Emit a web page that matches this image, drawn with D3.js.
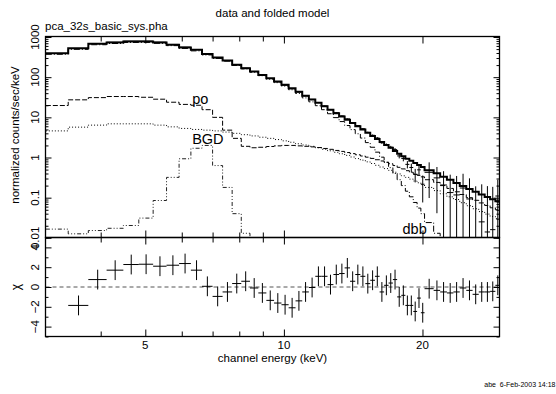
<!DOCTYPE html>
<html><head><meta charset="utf-8">
<script src="https://cdn.jsdelivr.net/npm/d3@7"></script>
<style>
body{margin:0;background:#fff}
svg{display:block}
text{font-family:"Liberation Sans",Arial,Helvetica,sans-serif;fill:#000}
</style>
</head><body>
<svg id="c" width="556" height="394"></svg>
<script>
// ---------- data ----------
const chanEdges = [3.04,3.40,3.76,4.12,4.48,4.84,5.20,5.56,5.92,6.28,6.64,7.00,7.36,7.72,8.08,8.44,8.80,9.16,9.52,9.88,10.24,10.60,10.96,11.33,11.70,12.07,12.44,12.81,13.18,13.55,13.92,14.29,14.66,15.03,15.40,15.77,16.14,16.51,16.88,17.25,17.62,17.99,18.36,18.73,19.10,19.47,19.84,20.21,21.15,21.85,22.60,23.35,24.10,24.90,25.70,26.50,27.30,28.05,28.80,29.50];
const modelTotal = [395,526,680,730,772,772,730,640,547,479,380,308,260,203,167,138,114,94,78,64.5,53,43.5,34.5,28,23,18.8,15.4,12.7,10.5,8.7,7.2,6.0,5.0,4.15,3.45,2.88,2.42,2.05,1.74,1.46,1.24,1.07,0.935,0.825,0.726,0.65,0.58,0.484,0.403,0.332,0.278,0.232,0.196,0.164,0.14,0.12,0.104,0.091,0.081];
const compDbb = [371,493,643,690,732,734,695,610,520,452,358,293,251,196,161,133,109,89,73,60,48.6,39.35,30.5,24.3,19.5,15.5,12.3,9.85,7.85,6.25,4.95,3.9,3.05,2.35,1.8,1.36,1.02,0.76,0.56,0.4,0.28,0.2,0.145,0.105,0.076,0.055,0.04,0.024,0.013,0.007,0.003,0.001,0.0005,0.0002,0.0001,0.0001,0.0001,0.0001,0.0001];
const compPo = [19.7,27.3,31,33,33,31.6,28.3,23.8,21,20,15.5,10,4.8,3.0,1.9,1.75,1.8,1.88,1.95,2.0,2.0,1.95,1.9,1.84,1.77,1.68,1.6,1.5,1.42,1.33,1.25,1.17,1.09,1.02,0.95,0.88,0.82,0.76,0.7,0.63,0.57,0.52,0.47,0.43,0.39,0.36,0.33,0.28,0.24,0.2,0.17,0.14,0.12,0.1,0.086,0.074,0.064,0.056,0.05];
const compBgd = [4.6,5.7,6.4,6.9,6.9,6.9,6.4,5.8,5.3,5.0,4.8,4.6,4.3,4.0,3.7,3.45,3.2,3.0,2.8,2.6,2.4,2.2,2.05,1.9,1.75,1.6,1.47,1.35,1.24,1.13,1.03,0.94,0.86,0.78,0.71,0.64,0.58,0.53,0.48,0.43,0.39,0.35,0.32,0.29,0.26,0.235,0.21,0.18,0.15,0.125,0.105,0.09,0.075,0.063,0.053,0.045,0.039,0.034,0.03];
const compGauss = [0.0165,0.0126,0.0152,0.0173,0.0203,0.031,0.085,0.32,0.93,1.7,2.0,0.63,0.18,0.04,0.013,0.005,0.001,0.0005,0.0002,0.0001,0.0001,0.0001,0.0001,0.0001,0.0001,0.0001,0.0001,0.0001,0.0001,0.0001,0.0001,0.0001,0.0001,0.0001,0.0001,0.0001,0.0001,0.0001,0.0001,0.0001,0.0001,0.0001,0.0001,0.0001,0.0001,0.0001,0.0001,0.0001,0.0001,0.0001,0.0001,0.0001,0.0001,0.0001,0.0001,0.0001,0.0001,0.0001,0.0001];
const dataVal = [null,516.7,684.5,741,788,788,743.6,653,559,487,380.3,305,258.6,203.8,168.1,137.8,113.2,92.4,76.4,63,51.5,42.6,34.2,28,23.44,19.19,15.48,13.07,10.85,9.16,7.33,6.25,5.2,4.21,3.57,3.06,2.34,2.08,1.8,1.57,1.095,0.948,0.675,0.565,0.38,0.493,0.216,0.428,0.311,0.207,0.134,0.117,0.174,0.093,-0.008,0.025,0.014,0.016,0.11];
const dataErr = [null,5,6,6.5,7,7,6.5,6,5.2,4.7,3.9,3.2,2.8,2.2,1.9,1.6,1.35,1.15,1.0,0.85,0.73,0.63,0.54,0.47,0.41,0.36,0.32,0.29,0.26,0.24,0.22,0.2,0.19,0.18,0.17,0.165,0.16,0.155,0.15,0.15,0.145,0.145,0.14,0.14,0.14,0.14,0.14,0.33,0.27,0.25,0.24,0.23,0.22,0.21,0.2,0.19,0.18,0.17,0.17];
const chiVal = [null,-1.86,0.75,1.7,2.27,2.3,2.1,2.2,2.37,1.7,0.07,-0.95,-0.5,0.35,0.58,-0.1,-0.6,-1.35,-1.62,-1.79,-2.1,-1.4,-0.5,-0.05,1.08,1.08,0.24,1.26,1.36,1.93,0.58,1.26,1.08,0.34,0.68,1.08,-0.5,0.17,0.4,0.75,-1.0,-0.84,-1.86,-1.86,-2.47,-1.12,-2.6,-0.17,-0.34,-0.5,-0.6,-0.5,-0.1,-0.34,-0.74,-0.5,-0.5,-0.44,0.17];
const xTicksAll = [4,5,6,7,8,9,10,20];
const xTickLabels = [5,10,20];
const yDecades = [0.01,0.1,1,10,100,1000];
const yDecadeLabels = ["0.01","0.1","1","10","100","1000"];
const chiTicksMajor = [-4,-2,0,2,4];
const chiTicksMinor = [-5,-3,-1,1,3,5];
const chiLabels = ["\u22124","\u22122","0","2","4"];
const titleText = "data and folded model";
const fileText = "pca_32s_basic_sys.pha";
const xTitle = "channel energy (keV)";
const yTitle = "normalized counts/sec/keV";
const chiTitle = "\u03c7";
const stampText = "abe  6-Feb-2003 14:18";
const compLabels = [{t:"po",e:6.32,v:22},{t:"BGD",e:6.32,v:2.2},{t:"dbb",e:18.1,v:0.0126}];

// ---------- layout ----------
const L=45.5, R=499.5, T=36.5, M=237.5, B=336.5;
const svg = d3.select("#c");
const x = d3.scaleLog().domain([3.035,29.4]).range([L,R]);
const y = d3.scaleLog().domain([0.0102,1030]).range([M,T]);
const yc = d3.scaleLinear().domain([-5,5]).range([B,M]);
const ymin = y.domain()[0];

svg.append("defs").append("clipPath").attr("id","cp")
  .append("rect").attr("x",L).attr("y",T).attr("width",R-L).attr("height",M-T);
svg.append("defs").append("clipPath").attr("id","cp2")
  .append("rect").attr("x",L).attr("y",M).attr("width",R-L).attr("height",B-M);

const gTop = svg.append("g").attr("clip-path","url(#cp)");
const gBot = svg.append("g").attr("clip-path","url(#cp2)");

function stepPts(vals){
  const pts=[];
  vals.forEach((v,i)=>{
    const yy = y(Math.max(v, ymin*0.9));
    pts.push([x(chanEdges[i]),yy],[x(chanEdges[i+1]),yy]);
  });
  return d3.line()(pts);
}

// components
const comps = [
  {v:compGauss, dash:"4,2,1,2,1,2", w:1, c:"#222"},
  {v:compBgd, dash:"1,2", w:1, c:"#000"},
  {v:compPo, dash:"5,2", w:1, c:"#000"},
  {v:compDbb, dash:"6,2,1,2", w:1, c:"#000"}
];
comps.forEach(cp=>{
  gTop.append("path").attr("d",stepPts(cp.v)).attr("fill","none")
    .attr("stroke",cp.c).attr("stroke-width",cp.w).attr("stroke-dasharray",cp.dash);
});
// total model
gTop.append("path").attr("d",stepPts(modelTotal)).attr("fill","none")
  .attr("stroke","#000").attr("stroke-width",2);

// data crosses
dataVal.forEach((v,i)=>{
  if(v===null) return;
  const lo=chanEdges[i], hi=chanEdges[i+1], xc=x((lo+hi)/2);
  const e=dataErr[i];
  if(v>ymin){
    gTop.append("line").attr("x1",x(lo)).attr("x2",x(hi)).attr("y1",y(v)).attr("y2",y(v))
      .attr("stroke","#000").attr("stroke-width",1);
  }
  const top=v+e, bot=v-e;
  gTop.append("line").attr("x1",xc).attr("x2",xc)
    .attr("y1",y(Math.max(top,ymin*0.9))).attr("y2",y(Math.max(bot,ymin*0.9)))
    .attr("stroke","#000").attr("stroke-width",1);
});

// residuals
gBot.append("line").attr("x1",L).attr("x2",R).attr("y1",yc(0)).attr("y2",yc(0))
  .attr("stroke","#555").attr("stroke-width",1).attr("stroke-dasharray","4,3");
chiVal.forEach((v,i)=>{
  if(v===null) return;
  const lo=chanEdges[i], hi=chanEdges[i+1], xc=x((lo+hi)/2);
  gBot.append("line").attr("x1",x(lo)).attr("x2",x(hi)).attr("y1",yc(v)).attr("y2",yc(v))
    .attr("stroke","#000").attr("stroke-width",1);
  gBot.append("line").attr("x1",xc).attr("x2",xc).attr("y1",yc(v+1)).attr("y2",yc(v-1))
    .attr("stroke","#000").attr("stroke-width",1);
});

// ---------- axes ----------
function axisG(axis, tx, ty){
  const g = svg.append("g").attr("transform",`translate(${tx},${ty})`).call(axis);
  g.select(".domain").remove();
  g.selectAll("text").remove();
  g.selectAll("line").attr("stroke","#000").attr("stroke-width",1);
  return g;
}
const yMinor=[];
[0.01,0.1,1,10,100].forEach(d=>{for(let k=2;k<=9;k++) yMinor.push(d*k);});
const yMinorIn = yMinor.filter(v=>v>=ymin && v<=1030);
axisG(d3.axisLeft(y).tickValues(yDecades).tickSize(-6).tickSizeOuter(0), L, 0);
axisG(d3.axisLeft(y).tickValues(yMinorIn).tickSize(-3).tickSizeOuter(0), L, 0);
axisG(d3.axisRight(y).tickValues(yDecades).tickSize(-6).tickSizeOuter(0), R, 0);
axisG(d3.axisRight(y).tickValues(yMinorIn).tickSize(-3).tickSizeOuter(0), R, 0);
const xMajor = xTickLabels, xMinor = xTicksAll.filter(v=>!xMajor.includes(v));
[[T,"top"],[M,"bottomUp"],[M,"topDown"],[B,"bottomUp"]].forEach(([yy,kind])=>{
  const mk = (vals,s)=> kind==="top"||kind==="topDown" ? d3.axisTop(x).tickValues(vals).tickSize(-s).tickSizeOuter(0)
                                     : d3.axisBottom(x).tickValues(vals).tickSize(-s).tickSizeOuter(0);
  axisG(mk(xMajor,7), 0, yy);
  axisG(mk(xMinor,5), 0, yy);
});
axisG(d3.axisLeft(yc).tickValues(chiTicksMajor).tickSize(-6).tickSizeOuter(0), L, 0);
axisG(d3.axisLeft(yc).tickValues(chiTicksMinor).tickSize(-3).tickSizeOuter(0), L, 0);
axisG(d3.axisRight(yc).tickValues(chiTicksMajor).tickSize(-6).tickSizeOuter(0), R, 0);
axisG(d3.axisRight(yc).tickValues(chiTicksMinor).tickSize(-3).tickSizeOuter(0), R, 0);

const fr = svg.append("g").attr("fill","none").attr("stroke","#000").attr("stroke-width",1.3);
fr.append("rect").attr("x",L).attr("y",T).attr("width",R-L).attr("height",M-T);
fr.append("rect").attr("x",L).attr("y",M).attr("width",R-L).attr("height",B-M);

// ---------- text ----------
const fs = 11.5;
yDecades.forEach((v,i)=>{
  svg.append("text").attr("transform",`translate(35,${y(v)}) rotate(-90)`)
    .attr("text-anchor","middle").attr("dominant-baseline","central")
    .attr("font-size",fs).text(yDecadeLabels[i]);
});
chiTicksMajor.forEach((v,i)=>{
  svg.append("text").attr("transform",`translate(35,${yc(v)}) rotate(-90)`)
    .attr("text-anchor","middle").attr("dominant-baseline","central")
    .attr("font-size",fs).text(chiLabels[i]);
});
xTickLabels.forEach(v=>{
  svg.append("text").attr("x",x(v)).attr("y",349).attr("text-anchor","middle")
    .attr("font-size",fs).text(String(v));
});
svg.append("text").attr("x",272.5).attr("y",362).attr("text-anchor","middle")
  .attr("font-size",11.5).text(xTitle);
svg.append("text").attr("transform",`translate(15,135) rotate(-90)`)
  .attr("text-anchor","middle").attr("dominant-baseline","central")
  .attr("font-size",11.5).text(yTitle);
svg.append("text").attr("transform",`translate(15.5,287) rotate(-90)`)
  .attr("text-anchor","middle").attr("dominant-baseline","central")
  .attr("font-size",12).text(chiTitle);
svg.append("text").attr("x",272.5).attr("y",17).attr("text-anchor","middle")
  .attr("font-size",11.5).text(titleText);
svg.append("text").attr("x",45).attr("y",30).attr("text-anchor","start")
  .attr("font-size",11.5).text(fileText);
svg.append("text").attr("x",555.5).attr("y",387).attr("text-anchor","end")
  .attr("font-size",7).style("white-space","pre").text(stampText);
compLabels.forEach(c=>{
  svg.append("text").attr("x",x(c.e)).attr("y",y(c.v)).attr("font-size",14.5).text(c.t);
});
</script>
</body></html>
